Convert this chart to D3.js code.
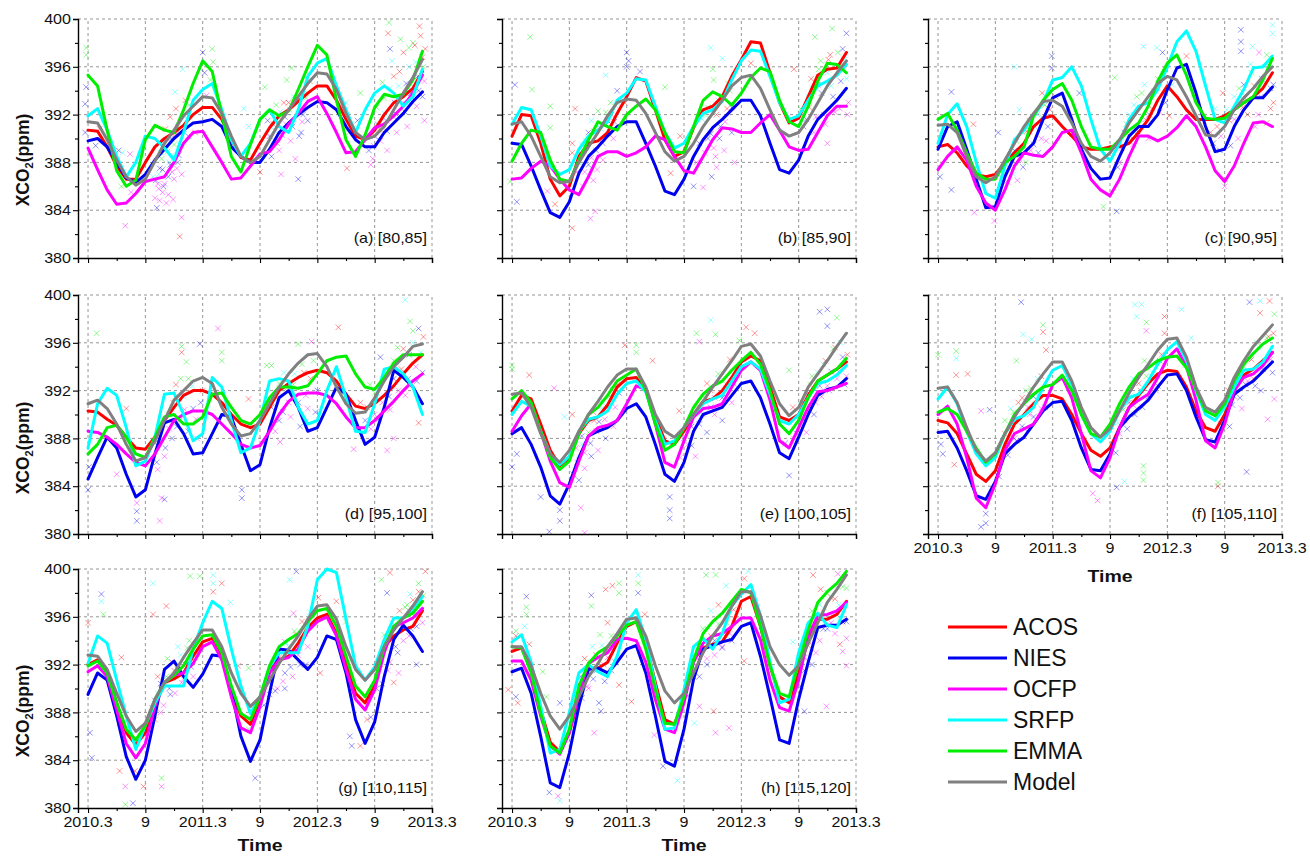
<!DOCTYPE html>
<html><head><meta charset="utf-8">
<script src="https://cdn.jsdelivr.net/npm/d3@7"></script>
<style>body{margin:0;background:#fff;} svg{display:block;font-family:"Liberation Sans",Arial,sans-serif;}</style>
</head><body><svg id="chart" width="1310" height="859"></svg>
<script>
// month index: 0 = 2010.3 ... 35 = 2013.2
const months = [0,1,2,3,4,5,6,7,8,9,10,11,12,13,14,15,16,17,18,19,20,21,22,23,24,25,26,27,28,29,30,31,32,33,34,35];
const xTickValues = [0,6,12,18,24,30,36];
const xTickLabels = ["2010.3","9","2011.3","9","2012.3","9","2013.3"];
const xMinorTicks = [3,9,15,21,27,33];
const yTickValues = [380,384,388,392,396,400];
const yMinorTicks = [382,386,390,394,398];
const seriesNames = ["ACOS","NIES","OCFP","SRFP","EMMA","Model"];
const panelLabels = ["(a) [80,85]","(b) [85,90]","(c) [90,95]","(d) [95,100]","(e) [100,105]","(f) [105,110]","(g) [110,115]","(h) [115,120]"];

// (a) [80,85]
const acos_a = [390.7,390.6,389.3,387.7,386.6,386.6,388.0,389.3,390.0,390.5,391.1,392.0,392.6,392.6,391.6,389.9,388.4,388.2,389.6,390.9,391.9,392.4,393.1,393.8,394.4,394.4,393.2,391.6,390.2,389.9,390.7,392.0,393.0,393.5,394.2,395.6];
const nies_a = [389.8,390.0,389.3,388.0,386.7,386.3,387.0,388.2,389.1,390.0,390.7,391.3,391.4,391.6,391.0,389.3,388.5,388.0,388.0,389.1,390.5,391.3,392.0,392.6,393.1,393.0,392.4,391.0,389.9,389.3,389.3,390.5,391.3,392.1,393.1,393.9];
const ocfp_a = [389.2,387.4,385.7,384.5,384.6,385.4,386.4,386.6,386.8,388.0,389.6,390.5,390.6,389.3,388.0,386.6,386.7,387.7,388.7,388.9,389.9,391.2,392.1,393.1,393.5,392.1,390.5,388.8,388.9,389.9,390.9,391.2,391.9,392.7,393.8,395.3];
const srfp_a = [391.9,392.5,390.7,388.5,386.8,388.0,390.2,390.0,389.2,388.2,390.5,393.2,394.1,394.6,392.4,389.9,388.5,389.6,391.6,392.4,391.0,390.5,392.4,395.2,396.3,396.7,394.4,392.4,390.5,392.4,393.8,394.4,393.8,392.7,393.5,395.8];
const emma_a = [395.3,394.4,390.7,387.3,386.0,386.5,389.9,391.1,390.7,390.5,392.4,394.6,396.5,395.6,392.0,388.5,387.2,389.5,391.6,392.4,391.9,392.3,394.1,396.0,397.8,397.0,393.2,389.9,388.5,390.3,392.6,393.7,393.5,393.7,394.9,397.3];
const model_a = [391.4,391.3,389.9,388.2,386.8,386.1,386.6,388.1,389.6,390.7,391.9,392.7,393.5,393.4,392.1,390.2,388.5,388.0,388.5,389.9,391.3,392.4,393.5,394.6,395.5,395.4,394.1,392.1,390.5,389.9,390.2,391.0,392.4,393.8,395.1,396.6];
// (b) [85,90]
const acos_b = [390.2,392.0,391.9,389.6,386.6,385.2,386.0,388.5,389.6,389.8,390.5,392.1,393.5,395.1,394.8,392.4,389.9,388.5,388.9,390.9,392.4,392.7,393.5,395.2,396.6,398.1,398.0,395.5,393.0,391.3,391.7,393.5,395.3,395.8,395.9,397.2];
const nies_b = [389.6,389.5,387.7,385.7,383.8,383.4,384.7,387.1,388.5,389.3,390.2,391.0,391.4,391.4,389.6,387.7,385.6,385.3,386.6,388.5,389.9,390.9,391.6,392.4,393.2,393.2,391.9,389.6,387.4,387.1,388.2,390.2,391.6,392.4,393.2,394.2];
const ocfp_b = [386.6,386.7,387.5,388.1,387.7,386.6,385.7,385.3,386.8,388.5,388.9,388.9,388.5,388.8,389.3,390.2,389.9,388.5,387.3,387.1,388.5,389.9,390.9,390.8,390.5,390.5,391.3,392.0,390.7,389.3,389.0,389.1,390.5,391.9,392.7,392.7];
const srfp_b = [391.2,392.6,392.4,390.2,387.7,387.0,387.4,389.1,390.2,390.7,391.4,393.2,393.8,395.0,394.9,392.7,390.5,389.2,389.6,391.0,392.1,392.4,393.1,394.9,396.5,397.4,397.3,395.2,393.0,391.6,391.9,393.2,394.4,394.8,395.3,396.2];
const emma_b = [388.1,389.6,390.7,390.5,388.2,386.6,386.4,388.2,389.9,391.4,391.0,390.7,392.0,392.7,393.3,392.4,390.5,388.9,388.8,391.0,393.2,393.9,393.5,392.8,393.8,395.1,395.9,395.6,393.2,391.4,391.0,392.7,394.8,396.3,396.2,395.5];
const model_b = [391.2,391.4,390.2,388.5,386.8,386.3,386.4,388.0,389.3,390.5,391.9,393.0,393.3,393.2,392.1,390.5,388.9,388.1,388.5,389.6,391.0,392.1,393.2,394.4,395.1,395.3,394.2,392.4,390.7,390.2,390.5,391.6,393.0,394.4,395.5,396.5];
// (c) [90,95]
const acos_c = [389.3,389.5,388.8,387.7,387.0,386.8,387.0,388.0,388.8,389.6,391.0,391.7,391.9,391.0,390.2,389.3,389.1,389.1,389.3,389.3,389.6,390.5,391.6,393.2,394.4,393.5,392.4,391.6,391.6,391.6,391.9,392.4,393.0,393.5,394.2,395.5];
const nies_c = [389.1,391.0,391.4,389.1,386.6,384.2,384.3,386.8,388.5,388.8,389.6,391.6,393.4,393.8,391.6,389.1,387.5,386.6,386.7,388.5,390.2,391.0,391.0,392.0,394.1,395.9,396.2,393.8,391.0,388.9,389.1,391.0,392.4,393.4,393.4,394.3];
const ocfp_c = [387.4,388.5,389.3,388.2,386.0,384.6,384.0,385.7,387.7,388.8,388.6,388.5,389.3,390.5,390.7,388.8,386.6,385.7,385.2,386.6,388.5,390.2,390.2,389.8,390.2,390.9,391.9,391.0,389.3,387.3,386.4,387.7,389.6,391.3,391.4,391.0];
const srfp_c = [389.6,392.0,392.9,391.0,388.0,385.4,385.0,387.7,389.9,390.7,391.9,393.0,394.9,395.1,396.0,394.4,391.6,389.1,388.1,389.6,391.6,392.7,393.0,394.1,396.0,398.1,399.0,397.3,394.4,391.6,391.3,392.7,394.1,395.9,396.0,396.9];
const emma_c = [391.6,392.1,390.7,388.8,387.1,386.6,386.6,388.0,388.5,389.3,391.9,393.2,394.1,394.6,393.2,391.0,389.3,389.1,389.1,389.9,390.7,391.3,392.7,394.8,396.3,397.0,395.3,393.0,391.7,391.6,391.7,392.4,393.0,393.5,394.9,396.7];
const model_c = [391.1,391.2,390.5,388.5,386.8,386.3,386.8,388.2,389.6,391.0,392.1,393.1,393.2,392.7,391.3,389.6,388.5,388.1,388.8,389.9,391.3,392.4,393.5,394.6,395.2,394.9,393.5,391.9,390.3,390.2,391.0,392.4,393.4,394.2,395.2,396.0];
// (d) [95,100]
const acos_d = [390.3,390.2,389.6,389.1,388.1,387.2,387.1,388.1,389.5,390.6,391.6,392.0,392.0,391.7,391.0,390.0,389.2,388.9,389.2,390.6,392.0,392.6,393.1,393.5,393.7,393.5,392.8,391.7,390.7,390.5,390.9,391.6,392.4,393.4,394.3,395.0];
const nies_d = [384.6,386.4,388.1,387.2,385.0,383.1,383.7,386.7,389.3,389.6,388.4,386.7,386.8,388.4,390.0,389.8,387.5,385.3,385.8,388.9,391.4,392.0,390.6,388.6,388.9,390.6,392.3,391.7,389.5,387.5,388.1,390.6,393.7,393.1,392.3,390.9];
const ocfp_d = [388.6,388.5,388.1,387.5,386.7,386.0,385.7,386.7,388.1,389.5,390.0,390.3,390.3,390.0,389.2,388.4,387.5,387.2,387.4,388.6,390.0,391.1,391.7,391.8,391.8,391.6,390.9,389.8,388.9,388.9,389.5,390.3,391.1,392.0,392.8,393.4];
const srfp_d = [387.2,390.9,392.2,391.6,388.9,385.7,386.1,388.1,391.7,391.8,390.0,387.8,388.4,393.1,392.3,389.5,386.8,387.2,389.5,392.8,393.0,392.8,390.6,389.2,389.5,392.0,394.0,391.4,388.6,388.5,390.9,393.8,394.0,393.4,392.3,390.0];
const emma_d = [386.7,387.5,388.9,389.1,388.1,386.7,386.4,388.1,389.8,390.0,389.2,389.2,389.8,391.7,391.8,390.6,389.5,389.2,390.0,391.4,392.3,392.3,392.2,392.4,393.4,394.5,394.8,394.9,393.4,392.3,392.1,393.1,394.3,395.0,395.0,395.0];
const model_d = [390.9,391.2,390.5,389.2,387.5,386.1,386.4,387.8,389.5,391.2,392.0,392.8,393.1,392.6,390.6,389.2,388.2,388.4,389.5,390.9,392.3,393.4,394.3,395.0,395.1,394.0,392.3,390.9,390.1,390.2,391.4,392.8,394.0,394.8,395.7,395.9];
// (e) [100,105]
const acos_e = [390.3,391.6,391.3,389.2,387.0,385.7,386.4,388.4,389.5,389.8,390.8,392.3,393.0,393.1,392.0,389.8,387.8,387.5,388.6,390.0,391.1,391.3,392.0,393.1,394.4,394.9,394.5,392.3,389.8,389.5,390.0,391.6,392.8,393.3,393.8,394.4];
const nies_e = [388.4,388.9,387.5,385.6,383.2,382.5,384.2,386.4,388.2,388.6,388.9,389.5,390.5,390.9,389.8,387.5,385.0,384.4,386.0,388.6,390.0,390.3,390.6,391.6,392.6,392.8,391.4,389.2,386.8,386.3,388.1,390.0,391.6,392.1,392.3,393.0];
const ocfp_e = [388.6,389.9,390.9,388.6,386.1,384.3,383.9,386.1,388.2,388.9,389.1,389.5,390.9,392.4,392.1,389.2,386.0,385.6,387.8,389.8,390.5,390.6,390.9,392.3,393.7,394.4,393.7,391.2,387.8,387.2,388.9,390.6,391.9,392.0,392.3,392.6];
const srfp_e = [390.0,391.1,390.7,388.6,386.7,385.8,386.5,388.6,389.6,389.8,390.3,391.7,392.6,392.8,391.9,389.5,387.5,387.8,388.9,390.0,390.9,391.3,391.6,392.8,394.0,394.4,393.8,391.7,389.5,389.2,390.0,391.4,392.6,392.8,393.3,394.1];
const emma_e = [391.3,392.0,391.0,388.6,386.4,385.4,386.1,388.4,390.0,390.6,391.6,392.8,393.3,393.8,392.0,389.2,387.0,387.5,388.9,390.6,391.7,392.4,392.8,393.7,394.5,395.2,394.2,392.0,389.2,388.4,389.5,391.4,392.8,393.3,393.8,394.7];
const model_e = [391.7,391.8,390.6,388.4,386.7,386.0,387.0,388.6,390.0,391.1,392.3,393.3,393.8,393.8,392.3,390.0,388.6,388.1,388.9,390.0,391.1,392.3,393.4,394.5,395.7,395.9,394.9,392.8,390.9,389.9,390.6,392.3,393.4,394.5,395.7,396.8];
// (f) [105,110]
const acos_f = [389.5,389.3,388.4,386.7,385.0,384.4,385.3,387.5,389.2,390.0,390.9,391.6,391.6,391.3,390.0,388.4,387.0,386.5,387.2,388.9,390.6,391.6,392.6,393.4,393.7,393.6,392.3,390.3,388.9,388.6,390.0,392.0,393.3,393.8,394.5,395.2];
const nies_f = [388.5,388.6,387.2,385.3,383.2,382.9,384.4,386.7,387.5,388.1,389.2,390.3,391.0,391.1,389.5,387.2,385.4,385.3,386.7,388.9,389.8,390.5,391.2,392.3,393.3,393.4,392.0,389.8,387.9,387.7,389.5,391.7,392.3,392.8,393.6,394.4];
const ocfp_f = [390.0,390.7,389.2,386.4,383.0,382.2,384.2,387.0,388.4,388.8,389.2,390.5,392.5,393.1,391.4,388.4,385.3,384.7,386.4,388.9,390.6,391.2,391.7,393.1,394.7,395.5,394.0,391.2,387.8,387.2,389.2,392.0,393.1,393.4,394.1,395.2];
const srfp_f = [391.3,392.3,390.9,388.6,386.7,385.7,386.4,388.4,389.6,389.9,390.6,392.3,393.7,394.1,392.5,390.0,388.4,387.7,388.6,390.3,391.4,391.7,392.8,394.2,395.4,396.1,394.5,392.0,390.0,389.5,390.6,392.3,393.7,393.8,394.4,395.7];
const emma_f = [390.2,390.5,390.0,388.6,387.2,386.0,386.7,388.4,390.0,390.9,391.7,392.3,392.5,393.3,392.0,390.0,388.4,388.1,389.2,390.9,392.3,393.4,393.9,394.5,394.8,394.9,393.9,392.1,390.3,389.9,390.9,392.8,394.2,395.1,395.9,396.4];
const model_f = [392.2,392.3,391.0,388.9,387.0,386.1,386.8,388.4,389.8,391.0,392.3,393.4,394.4,394.4,392.8,390.6,388.9,388.1,388.8,390.3,391.8,393.1,394.2,395.4,396.3,396.4,394.8,392.3,390.6,390.2,391.2,393.1,394.5,395.7,396.6,397.5];
// (g) [110,115]
const acos_g = [392.0,392.4,391.3,388.8,386.3,385.3,386.3,388.8,390.5,390.8,391.3,392.7,393.9,394.2,392.7,389.9,387.7,387.0,389.1,391.6,392.4,392.7,393.8,395.1,395.9,396.2,394.6,392.1,389.6,388.8,390.2,393.5,394.4,394.9,395.2,396.5];
const nies_g = [389.5,391.3,390.7,387.7,384.3,382.4,384.0,387.7,391.6,392.3,391.0,390.1,391.2,392.8,392.7,389.9,386.0,383.9,385.7,389.6,393.3,393.2,392.4,391.6,392.6,394.4,394.1,391.3,387.4,385.4,387.2,391.0,394.1,395.3,394.4,393.1];
const ocfp_g = [391.4,391.9,391.0,388.2,385.4,384.2,385.4,388.5,390.5,391.1,391.3,392.1,393.5,393.9,392.4,389.3,386.7,386.3,388.5,391.3,392.4,392.6,393.3,394.8,395.6,396.0,394.4,391.6,389.1,388.2,389.9,393.0,395.2,395.5,395.9,396.7];
const srfp_g = [392.1,394.4,393.8,390.7,387.7,384.9,386.9,388.8,390.2,390.2,390.2,393.3,395.5,397.3,396.7,393.3,390.2,387.9,389.3,391.8,393.0,393.0,393.0,395.2,399.1,400.0,399.7,395.8,391.9,390.7,391.8,394.1,395.9,395.9,396.5,397.7];
const emma_g = [391.9,392.3,391.3,388.8,386.6,385.7,386.9,389.1,390.5,391.1,391.9,393.3,394.4,394.5,393.0,390.2,387.9,387.4,389.3,391.9,393.5,394.1,394.6,395.6,396.5,396.7,395.2,392.7,390.2,389.3,390.7,393.5,395.2,395.9,396.3,397.3];
const model_g = [392.8,392.7,391.6,389.6,387.7,386.4,387.1,389.1,390.5,391.3,392.6,393.8,394.9,394.9,393.5,391.3,389.6,388.5,389.3,390.7,392.1,393.3,394.4,395.8,396.9,397.0,395.8,393.5,391.6,390.7,391.6,393.5,394.9,395.9,396.9,398.1];
// (h) [115,120]
const acos_h = [393.1,393.4,391.6,388.2,385.5,384.7,386.3,389.3,391.7,391.7,392.2,393.8,395.2,395.6,393.8,390.5,387.4,387.0,389.1,392.4,393.4,393.7,393.9,395.2,397.3,397.7,395.2,391.9,389.3,388.8,391.3,394.1,395.8,395.8,396.2,397.3];
const nies_h = [391.4,391.7,389.6,386.0,382.1,381.7,384.6,388.5,391.6,391.7,391.3,392.2,393.3,393.6,391.3,387.7,383.9,383.5,386.6,390.8,393.3,393.6,393.9,394.1,395.2,395.5,392.7,389.3,385.7,385.4,389.1,392.2,395.1,395.3,395.3,395.8];
const ocfp_h = [392.3,392.3,390.7,387.7,385.2,384.5,386.3,389.6,392.1,392.6,393.0,394.1,394.2,394.0,392.2,389.1,386.6,386.3,388.8,392.2,393.8,394.4,394.6,395.2,395.9,395.9,394.1,390.7,388.4,388.1,390.7,394.4,396.1,396.2,396.5,397.2];
const srfp_h = [393.9,394.5,392.2,388.5,384.6,384.9,388.0,391.3,392.0,391.4,391.0,392.7,395.5,396.6,394.1,390.2,386.6,386.7,389.9,393.5,394.2,393.3,394.6,396.9,397.9,398.7,396.1,392.2,388.8,389.1,393.0,395.5,396.3,395.3,395.1,397.0];
const emma_h = [393.5,393.4,391.3,387.9,385.2,384.6,386.6,390.2,392.1,393.0,393.5,394.4,395.3,395.6,393.3,389.9,387.1,387.0,389.3,392.4,394.6,395.6,396.3,397.3,398.3,398.0,395.2,391.9,389.6,389.3,392.1,394.9,397.2,398.1,398.8,399.8];
const model_h = [393.5,393.5,391.9,389.6,387.7,386.6,387.7,389.3,391.0,392.1,393.5,394.6,395.8,395.9,394.4,391.9,389.8,388.8,389.6,391.3,393.0,394.4,395.5,396.9,398.1,398.1,396.1,393.5,392.0,391.1,391.9,393.8,395.5,397.2,398.3,399.5];

// individual retrievals: [month, XCO2, series index]
const scatter_a = [[-0.2,397.6,4],[-0.2,397.0,4],[-0.2,394.3,1],[-0.3,392.9,1],[-0.3,390.5,1],[0.8,389.4,1],[1.2,390.8,0],[3.2,389.0,1],[3.6,388.8,3],[4.4,388.7,2],[3.9,382.7,2],[3.5,386.0,4],[4.5,385.5,2],[6.8,386.8,3],[7.0,385.0,2],[7.2,384.2,1],[7.3,386.2,2],[7.5,387.5,1],[7.7,388.3,4],[7.8,385.5,2],[8.0,389.8,3],[8.1,390.8,0],[8.2,384.6,2],[8.4,386.8,1],[8.5,388.0,3],[8.6,391.8,0],[8.8,387.2,2],[9.0,389.5,4],[9.1,393.9,3],[9.2,392.5,0],[9.5,388.6,1],[9.6,381.8,0],[9.8,383.4,2],[9.9,395.8,3],[10.0,392.0,4],[10.2,393.2,0],[10.5,390.2,1],[7.4,387.0,3],[7.9,386.0,1],[8.3,388.9,4],[8.7,390.0,1],[9.3,387.5,2],[9.4,391.0,3],[11.2,390.5,0],[12.0,397.2,1],[12.2,395.5,1],[12.4,393.6,2],[13.0,397.5,4],[13.1,396.4,4],[12.8,394.9,4],[16.3,392.5,3],[16.8,391.0,3],[18.0,387.2,0],[18.5,394.3,4],[18.8,391.5,1],[19.2,388.5,1],[19.5,390.7,3],[19.7,392.8,4],[20.0,389.0,2],[20.2,387.0,2],[20.5,393.0,0],[20.6,391.8,1],[20.8,394.9,4],[21.0,393.0,0],[21.2,389.8,2],[21.3,395.9,4],[21.5,393.5,3],[22.0,386.6,1],[22.3,390.5,1],[22.5,392.0,1],[23.0,391.5,1],[23.2,394.8,0],[19.9,391.9,0],[20.3,390.3,1],[21.7,388.3,2],[27.0,393.0,3],[27.1,387.5,0],[27.3,390.5,4],[28.2,391.5,1],[28.5,393.8,4],[29.4,389.0,1],[29.6,387.8,2],[29.8,388.3,2],[30.0,390.2,1],[30.2,392.6,4],[30.5,390.8,0],[30.8,394.7,4],[31.0,392.1,3],[31.2,391.5,1],[31.3,389.0,2],[31.4,398.8,0],[31.5,399.7,4],[31.6,397.5,1],[31.8,396.5,3],[32.0,395.2,0],[32.1,393.0,1],[32.3,390.5,2],[32.5,394.4,3],[32.7,398.3,4],[33.0,397.2,0],[33.2,392.2,1],[33.4,391.0,2],[33.6,396.0,3],[33.8,393.8,1],[34.0,398.0,4],[34.2,397.8,0],[34.4,392.7,2],[34.5,395.2,1],[34.7,399.4,0],[34.8,398.6,0],[35.0,393.5,1],[35.1,396.0,4],[35.2,391.5,2],[35.3,397.5,0]];
const cloud_a = [[7.1,386.5,1],[7.4,385.8,2],[7.6,388.8,3],[7.8,387.4,1],[8.0,386.2,2],[8.2,389.4,4],[8.4,385.3,2],[8.6,387.8,1],[8.8,388.6,3],[9.0,386.6,2],[9.2,390.4,0],[9.4,388.0,1],[9.6,389.6,3],[9.8,387.0,2],[10.0,390.8,1],[10.3,391.6,3],[10.6,392.8,4],[7.5,384.8,2],[8.9,384.9,2],[19.0,390.2,1],[19.4,391.2,0],[19.8,389.6,2],[20.1,392.2,3],[20.4,390.8,1],[20.7,391.2,2],[21.1,392.4,4],[21.4,391.0,1],[21.8,393.2,0],[22.1,390.2,1],[22.4,391.4,2],[22.8,393.4,4],[29.9,389.4,2],[30.3,391.2,1],[30.6,389.8,2],[31.0,393.4,4],[31.3,390.6,1],[31.6,394.2,3],[32.0,391.8,2],[32.3,392.0,1],[32.6,395.6,0],[33.0,393.0,2],[33.3,394.6,1],[33.6,397.6,4],[34.0,393.4,2],[34.3,396.4,3],[34.6,394.0,1],[35.0,396.8,0],[35.2,394.8,2]];
const scatter_b = [[0.3,394.5,1],[1.9,398.5,4],[2.1,394.1,4],[-0.2,386.4,4],[0.5,384.7,1],[4.0,392.7,4],[4.0,390.9,4],[6.6,392.5,0],[6.3,389.6,0],[6.3,388.8,0],[4.5,384.5,0],[6.3,382.5,0],[3.7,385.6,2],[8.2,383.3,2],[8.7,383.9,2],[7.0,388.0,4],[7.3,389.5,3],[7.6,387.2,2],[8.0,390.5,1],[8.3,391.5,3],[8.5,386.5,2],[8.8,389.0,1],[9.0,392.3,4],[9.3,390.8,3],[9.5,388.2,2],[9.8,395.3,3],[10.0,391.5,1],[10.3,393.0,4],[10.6,390.0,2],[10.8,392.8,3],[11.0,394.0,1],[12.0,397.2,1],[12.0,396.0,1],[12.2,396.5,1],[13.4,395.6,1],[11.8,393.0,0],[16.0,394.3,4],[16.6,387.1,0],[17.6,390.2,0],[19.0,386.0,1],[20.0,385.9,2],[20.8,397.6,3],[22.0,396.7,3],[21.0,395.8,4],[21.1,394.9,4],[20.2,392.0,4],[20.5,390.0,1],[21.3,388.5,2],[21.6,393.2,3],[21.8,391.0,1],[22.2,389.0,2],[22.5,392.5,0],[22.8,394.0,4],[23.0,390.5,1],[23.3,388.0,2],[20.9,386.8,1],[21.4,387.6,2],[25.0,396.3,0],[29.5,395.8,0],[33.0,389.6,2],[31.7,398.5,4],[33.5,399.2,4],[35.0,398.8,1],[30.2,392.5,4],[30.5,391.0,1],[31.0,393.5,3],[31.3,395.0,0],[31.6,390.5,2],[32.0,394.5,1],[32.3,396.5,4],[32.6,392.0,2],[33.0,395.5,3],[33.3,397.0,0],[33.6,393.5,1],[34.0,396.0,4],[34.3,392.5,2],[34.6,397.5,1],[35.0,395.0,3],[35.2,393.0,2]];
const cloud_b = [[6.8,387.2,2],[7.1,388.8,4],[7.4,386.0,2],[7.7,389.8,3],[8.0,387.8,1],[8.3,388.4,2],[8.6,390.6,0],[8.9,387.4,2],[9.2,391.2,3],[9.5,389.6,1],[9.8,392.2,4],[10.1,390.4,2],[10.4,392.0,0],[10.7,391.4,1],[11.0,393.0,3],[19.3,388.0,2],[19.6,389.6,1],[19.9,391.6,3],[20.2,388.8,2],[20.5,392.6,4],[20.8,390.4,1],[21.1,389.2,2],[21.4,392.0,0],[21.7,390.0,1],[22.0,393.6,3],[22.3,391.4,2],[22.6,394.6,4],[23.0,392.6,1],[30.8,391.6,1],[31.1,392.6,0],[31.4,394.2,3],[31.8,391.8,2],[32.1,395.8,4],[32.4,393.8,1],[32.8,391.2,2],[33.1,396.6,0],[33.4,394.4,3],[33.8,392.2,2],[34.1,397.2,4],[34.4,394.8,1],[34.8,396.6,3],[35.1,392.0,2]];
const scatter_c = [[1.4,393.9,1],[1.4,385.7,1],[0.2,386.8,1],[3.7,391.2,0],[3.8,383.8,2],[5.9,383.1,2],[6.3,390.5,1],[8.5,392.4,3],[8.0,396.0,3],[11.9,396.9,1],[11.9,395.9,1],[10.9,393.8,0],[14.8,393.8,1],[17.3,384.3,4],[18.7,383.9,1],[18.5,395.1,4],[21.5,397.7,3],[22.9,397.6,3],[23.5,397.2,1],[24.2,391.9,0],[26.0,396.9,0],[29.8,393.8,0],[31.7,399.1,1],[31.7,398.1,1],[31.7,397.3,1],[32.9,397.7,3],[35.0,399.5,3],[35.0,398.8,3],[33.6,397.2,2],[30.0,386.6,2],[30.0,386.0,2],[34.4,391.3,0],[7.5,387.5,2],[8.0,389.0,1],[8.3,386.5,2],[8.8,390.5,3],[9.2,388.0,4],[9.6,391.5,0],[10.0,389.5,1],[10.4,392.0,3],[10.8,390.0,2],[11.2,392.8,4],[11.5,391.0,1],[12.3,393.5,0],[19.0,388.0,2],[19.5,390.5,1],[20.0,392.0,3],[20.4,389.5,2],[20.8,393.5,4],[21.2,391.0,1],[21.6,394.5,3],[22.0,390.0,2],[22.4,392.5,0],[23.0,395.0,4],[23.8,393.0,1],[24.5,394.5,3],[28.5,390.5,0],[29.0,392.5,3],[29.5,389.0,1],[30.5,391.5,0],[31.0,393.5,3],[31.4,390.0,2],[32.0,394.5,1],[32.4,392.0,0],[32.8,395.5,4],[33.2,391.0,2],[33.8,393.5,1],[34.2,396.0,3],[34.8,392.5,0],[35.1,394.5,1]];
const cloud_c = [[7.2,386.4,2],[7.6,388.6,1],[7.9,387.0,3],[8.2,389.8,4],[8.6,388.2,2],[8.9,387.6,1],[9.3,390.6,0],[9.7,389.0,2],[10.1,391.0,3],[10.5,388.8,1],[10.9,391.8,4],[11.3,389.8,2],[11.7,392.4,0],[18.8,387.6,1],[19.2,389.2,2],[19.7,391.2,4],[20.1,390.2,0],[20.5,392.8,3],[20.9,390.6,1],[21.3,393.8,4],[21.7,391.6,2],[22.1,392.0,1],[22.6,394.0,3],[23.2,392.2,2],[23.6,395.4,4],[28.8,389.6,1],[29.2,391.0,0],[29.6,390.2,2],[30.2,392.4,3],[30.6,389.4,1],[31.0,391.6,2],[31.5,394.2,4],[31.9,392.6,0],[32.3,393.2,1],[32.7,396.2,3],[33.1,394.4,0],[33.5,392.0,2],[33.9,395.0,1],[34.4,397.0,4],[34.8,394.2,1],[35.1,393.0,0]];
const scatter_d = [[0.9,396.8,4],[0,383.7,1],[0.1,385.6,1],[3.0,385.0,2],[4.0,390.5,0],[5.1,381.9,1],[5.1,381.1,1],[5.1,382.6,2],[7.7,383.0,2],[7.5,381.1,2],[8.0,382.9,1],[9.8,395.7,4],[9.8,395.2,0],[10.3,394.4,4],[11.7,395.9,1],[13.6,397.2,2],[14.0,395.2,4],[14.0,394.5,4],[16.1,383.7,1],[16.1,383.0,1],[16.8,391.3,0],[18.7,394.1,4],[19.2,394.1,4],[20.1,387.7,2],[22.0,395.9,4],[23.4,396.1,2],[26.2,397.3,0],[27.8,387.1,2],[30.6,394.8,1],[31.3,387.0,2],[32.0,388.0,2],[33.2,399.6,3],[33.7,397.8,4],[34.6,397.2,1],[34.6,389.3,0],[7.2,386.0,1],[7.6,388.5,3],[8.0,386.5,2],[8.4,390.0,4],[8.8,388.0,1],[9.2,392.5,0],[9.6,389.5,2],[10.0,391.5,3],[10.5,393.0,4],[11.0,390.5,1],[11.4,388.0,2],[12.0,392.0,0],[19.5,391.5,0],[20.0,389.5,1],[20.5,393.5,3],[21.0,391.0,2],[21.5,392.5,4],[22.2,389.0,1],[22.6,393.5,0],[23.0,390.5,2],[23.6,394.5,4],[24.0,392.0,1],[28.5,391.0,0],[29.0,389.5,1],[29.5,392.5,4],[30.0,390.0,2],[30.8,393.0,3],[31.5,391.5,1],[32.0,394.5,4],[32.5,392.0,2],[33.0,395.5,0],[33.5,393.0,1],[34.0,396.0,3],[34.3,394.0,2],[35.0,393.5,1],[35.1,396.5,0]];
const cloud_d = [[7.0,387.6,1],[7.3,385.4,2],[7.7,389.4,3],[8.1,387.2,1],[8.5,388.8,2],[8.9,391.0,0],[9.3,389.0,1],[9.7,393.0,4],[10.1,390.4,2],[10.5,388.6,1],[10.9,392.4,3],[11.3,389.6,2],[11.8,391.0,1],[19.2,390.6,1],[19.6,388.6,2],[20.0,392.6,4],[20.4,390.2,1],[20.8,392.0,0],[21.2,389.8,2],[21.6,393.4,3],[22.0,391.0,1],[22.4,394.2,4],[22.8,391.6,2],[23.3,393.0,0],[23.8,390.2,1],[29.2,390.6,0],[29.6,388.8,2],[30.0,391.8,4],[30.4,389.6,1],[30.8,391.0,2],[31.2,393.6,3],[31.6,390.4,2],[32.0,393.0,1],[32.4,395.6,4],[32.8,393.8,0],[33.2,391.6,2],[33.6,395.0,1],[34.0,397.0,4],[34.4,392.8,1],[34.8,395.2,3]];
const scatter_e = [[0,394.1,4],[0,393.8,4],[0,385.6,1],[0.5,386.7,1],[1.8,393.3,0],[3.0,383.1,1],[4.4,392.2,2],[5.5,389.8,3],[5.0,381.1,1],[5.0,382.0,1],[3.9,380.2,1],[7.6,380.1,2],[7.2,382.2,2],[6.3,390.0,0],[11.8,395.8,0],[13.0,395.8,4],[13.0,395.2,4],[14.7,394.5,0],[16.5,383.1,1],[16.5,382.0,1],[16.5,381.3,1],[17.5,390.3,0],[19.3,396.8,4],[19.6,396.1,2],[20.8,397.9,3],[21.3,396.7,4],[23.8,396.2,4],[24.5,397.3,0],[25.4,396.8,0],[29.0,393.7,4],[29.0,384.9,1],[32.2,398.6,1],[33.0,398.8,1],[33.0,397.4,1],[34.0,398.1,4],[6.8,386.0,2],[7.0,384.5,1],[7.3,387.5,3],[7.6,385.5,2],[8.0,388.5,4],[8.3,386.5,1],[8.6,389.5,0],[9.0,387.0,2],[9.4,390.5,3],[9.8,388.0,1],[10.2,391.5,4],[10.6,389.0,2],[11.0,392.5,0],[18.4,387.5,2],[18.8,389.0,1],[19.2,386.5,2],[19.6,390.0,3],[20.0,391.5,4],[20.4,388.5,1],[20.8,392.0,0],[21.2,390.0,2],[21.6,393.0,3],[22.0,389.5,1],[22.5,392.5,4],[23.0,391.0,2],[29.5,388.0,2],[30.0,389.5,1],[30.4,391.0,0],[30.8,388.5,2],[31.2,392.5,4],[31.6,390.0,1],[32.0,393.5,3],[32.4,391.5,2],[32.8,394.5,0],[33.2,392.0,1],[33.6,395.5,4],[34.0,393.0,2],[34.4,396.0,3],[34.8,392.5,1],[35.1,395.0,0]];
const cloud_e = [[6.4,385.0,1],[6.7,387.2,2],[7.0,386.2,3],[7.3,388.2,1],[7.6,386.8,2],[7.9,389.4,4],[8.2,387.6,1],[8.5,390.2,0],[8.8,388.6,2],[9.1,389.4,1],[9.4,391.2,3],[9.7,389.6,2],[10.0,390.6,1],[10.4,392.2,4],[10.8,390.6,2],[11.2,391.8,1],[17.6,386.4,2],[18.0,388.0,1],[18.4,389.2,3],[18.8,387.4,1],[19.2,390.6,4],[19.6,389.2,1],[20.0,390.0,2],[20.4,392.6,0],[20.8,390.6,1],[21.2,391.4,2],[21.6,393.4,4],[22.0,391.4,1],[22.4,392.2,3],[22.8,394.6,0],[23.2,392.6,1],[28.6,387.6,1],[29.0,389.4,2],[29.4,390.6,0],[29.8,388.4,1],[30.2,390.8,3],[30.6,389.6,2],[31.0,391.8,1],[31.4,393.2,4],[31.8,391.0,2],[32.2,392.4,1],[32.6,394.2,3],[33.0,392.4,2],[33.4,393.6,1],[33.8,395.6,0],[34.2,393.6,2],[34.6,394.8,1],[35.0,393.2,2]];
const scatter_f = [[0,395.0,4],[1.9,395.3,4],[1.9,394.7,3],[1.9,393.3,0],[3.1,393.4,0],[0.3,387.5,1],[0.5,386.7,1],[1.7,385.8,0],[4.5,390.3,2],[4.5,380.6,1],[5.0,380.9,1],[5.0,381.7,1],[5.4,390.4,1],[8.7,399.4,1],[8.9,396.7,3],[9.8,396.3,3],[11.0,397.5,4],[11.0,396.9,0],[11.3,395.4,0],[8.2,394.5,4],[16.2,383.4,2],[16.7,382.8,2],[18.7,383.9,1],[19.5,384.4,3],[18.8,389.3,3],[21.5,385.7,4],[21.5,385.1,4],[21.5,384.5,4],[20.6,399.2,3],[21.3,399.2,3],[20.8,398.2,3],[21.8,397.7,4],[21.8,397.0,2],[23.7,398.2,0],[23.7,396.8,0],[25.5,398.8,3],[26.5,396.4,3],[29.3,384.0,0],[29.3,384.3,4],[32.3,385.2,1],[32.6,399.4,1],[33.7,399.5,3],[34.7,399.5,0],[33.7,398.5,0],[35.2,398.4,4],[34.5,389.6,2],[35.2,391.3,2],[7.0,389.5,4],[7.3,387.5,1],[7.6,390.5,3],[8.0,388.0,2],[8.4,391.0,0],[8.8,389.0,1],[9.2,392.0,4],[9.6,390.0,2],[10.0,391.5,1],[10.4,393.0,3],[10.8,390.5,2],[19.5,389.5,2],[20.0,391.0,1],[20.4,393.0,3],[20.8,390.5,2],[21.2,392.0,0],[21.6,394.5,4],[22.0,391.5,1],[22.4,393.5,3],[22.8,392.0,2],[23.2,394.5,0],[30.5,389.0,1],[31.0,391.5,0],[31.4,393.0,4],[31.8,390.5,2],[32.2,392.5,1],[32.6,395.0,3],[33.0,393.0,0],[33.4,396.0,4],[33.8,392.0,1],[34.2,394.5,3],[34.6,396.5,0],[35.0,393.5,1]];
const cloud_f = [[6.4,384.8,1],[6.7,386.6,2],[7.0,388.4,0],[7.3,386.6,1],[7.6,388.8,2],[7.9,390.2,4],[8.2,387.8,1],[8.5,389.6,3],[8.8,391.4,0],[9.1,388.8,1],[9.4,390.6,2],[9.7,392.2,4],[10.0,389.8,1],[10.4,391.6,3],[10.8,393.2,0],[11.2,390.6,1],[18.6,386.8,1],[19.0,388.4,2],[19.4,390.4,4],[19.8,388.8,1],[20.2,391.6,3],[20.6,390.0,1],[21.0,392.6,0],[21.4,390.6,1],[21.8,393.2,4],[22.2,391.8,2],[22.6,394.4,3],[23.0,392.4,1],[23.4,395.0,0],[29.6,389.2,1],[30.0,390.4,2],[30.4,392.0,0],[30.8,390.8,1],[31.2,392.8,3],[31.6,391.4,1],[32.0,394.0,4],[32.4,392.8,2],[32.8,394.6,0],[33.2,392.4,1],[33.6,395.6,3],[34.0,393.8,1],[34.4,396.4,4],[34.8,394.6,2],[35.1,396.8,0]];
const scatter_g = [[0,395.5,0],[0.2,386.3,1],[0.4,384.2,1],[1.4,397.9,1],[1.4,397.3,3],[1.6,396.2,4],[3.3,387.1,0],[3.5,392.6,0],[3.3,383.1,0],[3.9,381.8,2],[3.9,380.3,4],[4.7,380.4,1],[4.9,383.1,0],[5.8,381.8,0],[7.7,382.5,4],[7.7,381.8,2],[6.8,398.8,3],[6.8,396.2,0],[8.2,396.9,0],[10.7,399.4,4],[11.7,399.4,4],[13.1,399.5,3],[13.1,398.8,3],[13.1,398.1,0],[14.0,398.8,0],[14.9,397.2,3],[15.7,391.9,0],[16.8,391.7,4],[17.5,382.5,1],[16.8,386.6,4],[20.6,391.3,1],[21.1,399.1,3],[21.8,399.8,1],[21.5,396.3,2],[20.6,393.9,2],[24.3,391.3,0],[24.1,397.6,0],[26.0,397.3,0],[27.0,395.6,4],[27.4,386.0,1],[27.6,385.2,1],[28.5,385.2,0],[29.2,387.4,0],[30.7,399.1,4],[31.6,399.7,0],[31.3,398.0,1],[32.0,390.5,0],[32.5,391.3,2],[33.7,397.9,3],[34.4,392.0,1],[34.6,398.8,4],[34.6,398.1,0],[35.3,399.8,0],[7.0,389.0,1],[7.3,391.0,0],[7.6,388.0,2],[8.0,390.5,3],[8.3,392.5,4],[8.6,389.5,1],[9.0,391.5,0],[9.4,393.5,3],[9.8,390.5,2],[10.2,392.0,1],[10.6,394.0,4],[11.0,391.0,2],[19.0,389.5,1],[19.4,391.5,0],[19.8,390.0,2],[20.2,392.5,4],[20.6,390.0,1],[21.0,393.5,3],[21.4,391.0,2],[21.8,394.5,0],[22.2,392.0,1],[22.6,395.0,4],[23.0,393.5,2],[30.2,390.0,1],[30.6,392.0,0],[31.0,394.5,4],[31.4,391.5,2],[31.8,395.5,3],[32.2,393.5,1],[32.6,396.5,0],[33.0,394.0,2],[33.4,397.0,4],[33.8,395.0,1],[34.2,396.0,3],[35.0,395.5,2]];
const cloud_g = [[6.4,386.6,2],[6.7,388.4,1],[7.0,387.4,0],[7.3,389.6,3],[7.6,390.4,1],[7.9,388.6,2],[8.2,391.0,4],[8.5,390.0,1],[8.8,392.2,0],[9.1,389.6,2],[9.4,391.6,1],[9.7,392.8,3],[10.0,390.8,2],[10.4,393.4,4],[10.8,391.8,1],[18.4,388.6,1],[18.8,390.6,2],[19.2,391.8,4],[19.6,389.8,1],[20.0,392.6,0],[20.4,390.6,2],[20.8,393.8,3],[21.2,391.8,1],[21.6,394.8,4],[22.0,392.8,2],[22.4,395.6,0],[22.8,392.0,1],[23.2,396.4,3],[29.6,387.6,1],[30.0,390.0,2],[30.4,391.8,0],[30.8,390.4,1],[31.2,393.6,4],[31.6,392.2,2],[32.0,395.0,3],[32.4,393.0,1],[32.8,395.6,0],[33.2,396.8,4],[33.6,394.4,2],[34.0,397.4,0],[34.4,395.2,1],[34.8,396.6,3],[35.1,397.8,4]];
const scatter_h = [[-0.4,389.9,0],[0.4,394.4,0],[0.4,394.8,4],[0.4,389.3,1],[0.6,388.8,0],[1.5,397.7,1],[1.5,396.8,4],[1.5,396.2,4],[1.3,395.2,3],[1.8,393.7,0],[3.2,391.4,4],[3.6,389.3,4],[3.9,381.3,1],[4.8,381.0,2],[5.0,380.6,3],[5.0,388.8,1],[8.6,386.3,2],[9.1,388.8,1],[9.3,388.1,1],[8.3,397.8,1],[8.3,396.9,4],[9.8,398.3,0],[10.5,398.6,0],[11.2,398.8,4],[11.2,398.0,4],[11.2,390.3,0],[12.5,388.9,0],[13.2,399.5,3],[13.2,398.8,4],[13.2,398.0,1],[13.9,396.2,0],[14.9,386.1,2],[15.8,383.5,1],[17.3,382.3,3],[19.1,387.1,3],[19.6,388.5,2],[20.3,399.5,4],[21.3,399.5,4],[21.3,386.3,2],[21.1,388.1,0],[22.7,386.7,2],[22.4,398.6,3],[24.7,399.8,3],[24.3,399.2,0],[24.3,392.3,0],[29.4,393.9,3],[30.6,388.1,1],[31.5,399.5,0],[32.3,398.3,0],[32.9,388.5,2],[34.3,393.7,0],[34.6,393.1,2],[35.0,391.9,2],[35.0,394.2,2],[34.1,399.6,2],[35.0,395.6,1],[6.8,389.5,4],[7.2,391.0,1],[7.6,392.5,0],[8.0,390.0,2],[8.4,393.5,3],[8.8,391.5,1],[9.2,394.5,4],[9.6,392.0,2],[10.0,395.5,0],[10.4,391.5,1],[10.8,394.0,3],[19.0,391.0,1],[19.5,393.0,0],[20.0,395.0,4],[20.4,392.5,2],[20.8,396.5,3],[21.2,394.0,1],[21.6,397.0,0],[22.0,393.5,2],[22.5,395.5,4],[23.0,394.0,1],[30.6,391.5,1],[31.0,394.0,0],[31.4,396.5,4],[31.8,393.0,2],[32.2,397.0,3],[32.6,395.0,1],[33.0,398.0,4],[33.4,395.5,2],[33.8,397.5,0],[34.2,396.0,3],[34.6,398.5,4]];
const cloud_h = [[6.4,387.6,1],[6.7,389.0,2],[7.0,390.4,0],[7.3,389.2,1],[7.6,391.2,3],[7.9,390.2,2],[8.2,392.2,4],[8.5,390.8,1],[8.8,392.8,0],[9.1,391.6,2],[9.4,393.6,3],[9.7,390.6,1],[10.0,392.6,2],[10.4,394.4,4],[10.8,392.2,1],[18.4,389.4,1],[18.8,391.4,2],[19.2,392.6,4],[19.6,391.0,1],[20.0,393.6,3],[20.4,392.0,1],[20.8,394.4,0],[21.2,392.8,2],[21.6,395.4,4],[22.0,393.4,1],[22.4,396.0,3],[22.8,394.6,2],[23.2,396.6,0],[30.2,390.2,1],[30.6,392.6,2],[31.0,393.6,0],[31.4,392.0,1],[31.8,395.0,3],[32.2,394.0,2],[32.6,396.4,4],[33.0,395.0,1],[33.4,397.6,0],[33.8,394.6,2],[34.2,397.0,3],[34.6,395.6,1],[35.0,398.4,4]];

const panelSeries = [
  [acos_a,nies_a,ocfp_a,srfp_a,emma_a,model_a],
  [acos_b,nies_b,ocfp_b,srfp_b,emma_b,model_b],
  [acos_c,nies_c,ocfp_c,srfp_c,emma_c,model_c],
  [acos_d,nies_d,ocfp_d,srfp_d,emma_d,model_d],
  [acos_e,nies_e,ocfp_e,srfp_e,emma_e,model_e],
  [acos_f,nies_f,ocfp_f,srfp_f,emma_f,model_f],
  [acos_g,nies_g,ocfp_g,srfp_g,emma_g,model_g],
  [acos_h,nies_h,ocfp_h,srfp_h,emma_h,model_h]
];
const panelScatter = [
  scatter_a.concat(cloud_a), scatter_b.concat(cloud_b), scatter_c.concat(cloud_c), scatter_d.concat(cloud_d),
  scatter_e.concat(cloud_e), scatter_f.concat(cloud_f), scatter_g.concat(cloud_g), scatter_h.concat(cloud_h)
];

// ---- styling / layout ----
const colors = ["#ff0000","#0000f0","#ff00ff","#00ffff","#00ee00","#808080"];
const colX = [78, 502, 928];
const rowY = [19, 295, 569];
const plotW = 354, plotH = 239;
const SX = 1.15; // horizontal stretch of the original text
const svg = d3.select("#chart");
svg.append("rect").attr("width",1310).attr("height",859).attr("fill","#fff");

function stext(g, x, y, str, size, anchor, weight) {
  return g.append("text")
    .attr("transform", `translate(${x},${y}) scale(${SX},1)`)
    .attr("text-anchor", anchor)
    .style("font-size", size + "px")
    .style("font-weight", weight || "normal")
    .attr("fill", "#111")
    .text(str);
}
const cross = d3.symbol().type(d3.symbolTimes).size(22);

panelSeries.forEach((series, i) => {
  const col = i % 3, row = Math.floor(i / 3);
  const x0 = colX[col], y0 = rowY[row];
  const x = d3.scaleLinear().domain([-1.05, 36]).range([x0, x0 + plotW]);
  const y = d3.scaleLinear().domain([380, 400]).range([y0 + plotH, y0]);
  const g = svg.append("g");

  // grid
  const grid = g.append("g").attr("stroke", "#8a8a8a").attr("stroke-width", 0.9).attr("stroke-dasharray", "3,3");
  yTickValues.filter(v => v > 380).forEach(v => {
    grid.append("line").attr("x1", x0).attr("x2", x0 + plotW).attr("y1", y(v)).attr("y2", y(v));
  });
  xTickValues.forEach(v => {
    grid.append("line").attr("x1", x(v)).attr("x2", x(v)).attr("y1", y0 + plotH).attr("y2", y0);
  });

  // scatter crosses
  g.append("g").selectAll("path").data(panelScatter[i]).join("path")
    .attr("d", cross)
    .attr("transform", d => `translate(${x(d[0])},${y(d[1])})`)
    .attr("fill", "none").attr("stroke", d => colors[d[2]]).attr("stroke-width", 1)
    .attr("opacity", 0.42);

  // lines
  const line = d3.line().x((d, k) => x(months[k])).y(d => y(d));
  series.forEach((vals, s) => {
    g.append("path").datum(vals).attr("d", line)
      .attr("fill", "none").attr("stroke", colors[s]).attr("stroke-width", 3)
      .attr("stroke-linejoin", "round").attr("stroke-linecap", "round");
  });

  // axes
  g.append("g").attr("transform", `translate(${x0},0)`)
    .call(d3.axisLeft(y).tickValues(yTickValues).tickSize(5).tickFormat(""));
  g.append("g").attr("transform", `translate(${x0},0)`)
    .call(d3.axisLeft(y).tickValues(yMinorTicks).tickSize(3).tickFormat("")).select(".domain").remove();
  g.append("g").attr("transform", `translate(0,${y0 + plotH})`)
    .call(d3.axisBottom(x).tickValues(xTickValues).tickSize(5).tickFormat(""));
  g.append("g").attr("transform", `translate(0,${y0 + plotH})`)
    .call(d3.axisBottom(x).tickValues(xMinorTicks).tickSize(3).tickFormat("")).select(".domain").remove();
  g.selectAll(".domain").attr("stroke", "#000").attr("stroke-width", 1.4);
  g.selectAll(".tick line").attr("stroke", "#000").attr("stroke-width", 1.1);

  // y tick labels (left column only)
  if (col === 0) {
    yTickValues.forEach(v => stext(g, x0 - 7, y(v) + 5.2, String(v), 14, "end"));
    const lab = g.append("text")
      .attr("transform", `translate(29,${[160, 448, 711][row]}) rotate(-90)`)
      .attr("text-anchor", "middle").style("font-size", "17.5px").style("font-weight", "bold").attr("fill", "#111");
    lab.append("tspan").text("XCO");
    lab.append("tspan").text("2").style("font-size", "11px").attr("dy", 4);
    lab.append("tspan").text("(ppm)").attr("dy", -4);
  }
  // x tick labels for the lowest panel of each column
  if (i >= 5) {
    xTickValues.forEach((v, k) => stext(g, x(v), y0 + plotH + 19, xTickLabels[k], 14, "middle"));
    stext(g, x0 + plotW / 2 + 5, y0 + plotH + (i === 5 ? 48 : 43), "Time", 17, "middle", "bold");
  }
  // panel label
  stext(g, x0 + plotW - 5, y0 + plotH - 15, panelLabels[i], 14, "end");
});

// legend
const legY = [627, 658, 689, 720, 751, 782];
const leg = svg.append("g");
seriesNames.forEach((n, s) => {
  leg.append("line").attr("x1", 948).attr("x2", 1007).attr("y1", legY[s]).attr("y2", legY[s])
    .attr("stroke", colors[s]).attr("stroke-width", 3);
  leg.append("text").attr("x", 1013).attr("y", legY[s] + 8).style("font-size", "23px").attr("fill", "#111").text(n);
});
</script></body></html>
